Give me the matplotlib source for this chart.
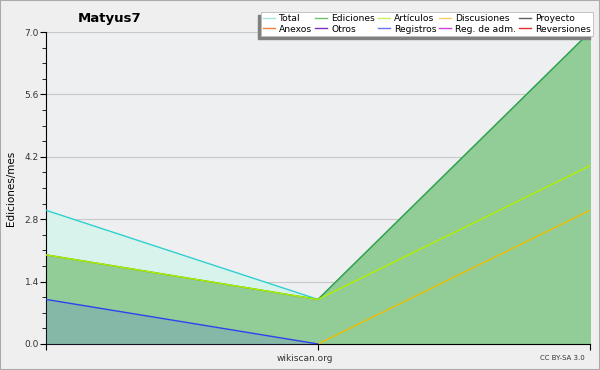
import matplotlib.pyplot as plt
from matplotlib.ticker import MultipleLocator
from matplotlib.lines import Line2D

puntos = [0, 1, 2]
total = [3, 1, 7]
ediciones = [2, 1, 7]
articulos = [2, 1, 4]
discusiones = [0, 0, 3]
registros = [1, 0, 0]

leyenda = [
    ("Total", "#a8e4e0"), ("Ediciones", "#70c070"), ("Artículos", "#c8f060"),
    ("Discusiones", "#f8d060"), ("Proyecto", "#606060"),
    ("Anexos", "#f08040"), ("Otros", "#8030c0"), ("Registros", "#7070f0"),
    ("Reg. de adm.", "#d040e0"), ("Reversiones", "#e03030"),
]

fig = plt.figure(figsize=(6, 3.7), dpi=100, facecolor="#efefef")
ax = fig.add_axes([0.0767, 0.0703, 0.9066, 0.8432], facecolor="#eeeff0")

ax.fill_between(puntos, total, color="#d8f2ec", zorder=1)
ax.fill_between(puntos, ediciones, color="#92cc96", zorder=2)
ax.fill_between(puntos, registros, color="#6a8cd0", alpha=0.3, zorder=3, lw=0)

ax.plot(puntos, total, color="#30d0d0", lw=1, zorder=4)
ax.plot(puntos, ediciones, color="#40a040", lw=1, zorder=5)
ax.plot(puntos, articulos, color="#b0f000", lw=1, zorder=6)
ax.plot(puntos[1:], discusiones[1:], color="#f0c000", lw=1, zorder=7)
ax.plot(puntos[:2], registros[:2], color="#3040f0", lw=1, zorder=8)

ax.set_xlim(0, 2)
ax.set_ylim(0, 7)
ax.yaxis.set_major_locator(MultipleLocator(1.4))
ax.yaxis.set_minor_locator(MultipleLocator(0.35))
ax.yaxis.set_major_formatter(plt.FuncFormatter(lambda v, p: f"{v:.1f}"))
ax.set_xticks(puntos)
ax.set_xticklabels([])
ax.grid(axis="y", color="#c8c8c8", lw=0.8, zorder=0)
ax.set_axisbelow(True)
for s in ["top", "right"]:
    ax.spines[s].set_visible(False)
ax.tick_params(axis="both", which="major", length=4, labelsize=6.5, colors="black", pad=1)
ax.tick_params(axis="y", which="minor", length=3)
for lab in ax.get_yticklabels():
    lab.set_color("#333333")

ax.set_ylabel("Ediciones/mes", fontsize=7.5, labelpad=6)
fig.text(0.183, 0.95, "Matyus7", fontsize=9.5, fontweight="bold", ha="center", va="center")
fig.text(0.508, 0.032, "wikiscan.org", fontsize=6.5, ha="center", va="center", color="#333333")
fig.text(0.975, 0.032, "CC BY-SA 3.0", fontsize=5, ha="right", va="center", color="#333333")

handles = [Line2D([0], [0], color=c, lw=1) for _, c in leyenda]
orden = [0, 5, 1, 6, 2, 7, 3, 8, 4, 9]
leg = fig.legend([handles[i] for i in orden], [leyenda[i][0] for i in orden],
                 ncol=5, loc="upper right", bbox_to_anchor=(593 / 600, 1 - 12 / 370),
                 fontsize=6.6, frameon=True, fancybox=False, shadow=False,
                 handlelength=1.3, handletextpad=0.45, columnspacing=0.3,
                 labelspacing=0.15, borderpad=0.25, borderaxespad=0)
leg.get_frame().set_edgecolor("#bbbbbb")
leg.get_frame().set_linewidth(0.6)
leg.get_frame().set_alpha(1)
leg.set_zorder(20)

# sombra hacia abajo a la izquierda, como en la original
fig.canvas.draw()
bb = leg.get_window_extent().transformed(fig.transFigure.inverted())
fig.patches.append(plt.Rectangle((bb.x0 - 3 / 600, bb.y0 - 3 / 370), bb.width, bb.height,
                                 transform=fig.transFigure, color="#808080", zorder=19))

fig.patches.append(plt.Rectangle((0, 0), 1, 1, transform=fig.transFigure,
                                 fill=False, edgecolor="#aaaaaa", lw=1.5))
fig.savefig("out.png", dpi=100, facecolor=fig.get_facecolor())
